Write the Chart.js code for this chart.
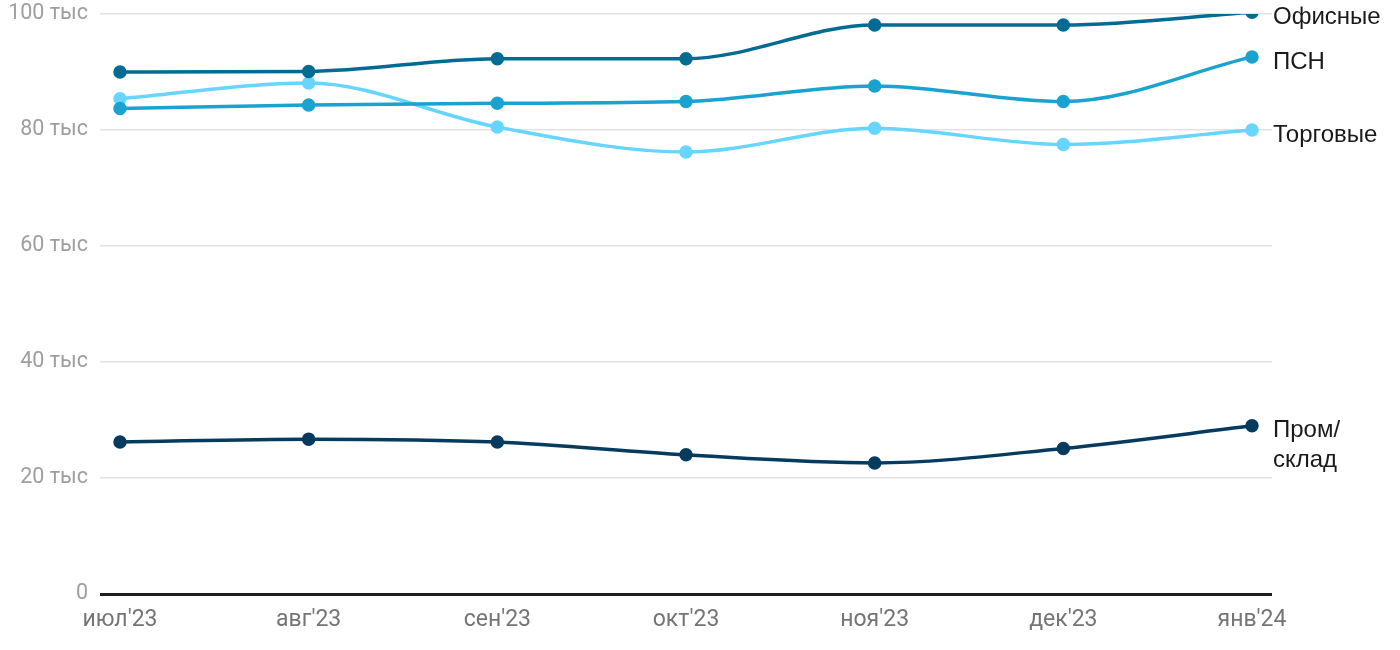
<!DOCTYPE html>
<html>
<head>
<meta charset="utf-8">
<script src="https://cdn.jsdelivr.net/npm/chart.js@4"></script>
<style>
  html, body { margin: 0; padding: 0; background: #fff; }
  #wrap { width: 1400px; height: 650px; }
</style>
</head>
<body>
<div id="wrap"><canvas id="chart"></canvas></div>
<script>
const months = ["июл'23", "авг'23", "сен'23", "окт'23", "ноя'23", "дек'23", "янв'24"];
const yTicks = [0, 20000, 40000, 60000, 80000, 100000];

const office = [90000, 90100, 92300, 92300, 98100, 98100, 100300];
const psn = [83700, 84300, 84600, 84900, 87600, 84900, 92600];
const retail = [85400, 88100, 80500, 76200, 80300, 77500, 80000];
const warehouse = [26200, 26700, 26200, 24000, 22600, 25100, 29000];

const seriesNames = ["Офисные", "ПСН", "Торговые", ["Пром/", "склад"]];
const seriesColors = ["#006b93", "#1aa2d0", "#66d5ff", "#063b60"];

function toPoints(arr) {
    return arr.map((v, i) => ({ x: i, y: v }));
}

const datasets = [office, psn, retail, warehouse].map((arr, i) => ({
    label: seriesNames[i],
    data: toPoints(arr),
    borderColor: seriesColors[i],
    backgroundColor: seriesColors[i],
    borderWidth: 3.5,
    pointRadius: 5,
    pointHoverRadius: 5,
    cubicInterpolationMode: 'monotone',
    fill: false
}));

// series names at the end of each line
const endLabels = {
    id: 'endLabels',
    afterDatasetsDraw(chart) {
        const ctx = chart.ctx;
        ctx.save();
        ctx.font = '24px "Liberation Sans", Arial, sans-serif';
        ctx.fillStyle = '#1a1a1a';
        ctx.textBaseline = 'middle';
        ctx.textAlign = 'left';
        chart.data.datasets.forEach((ds, i) => {
            const meta = chart.getDatasetMeta(i);
            const last = meta.data[meta.data.length - 1];
            const lines = Array.isArray(ds.label) ? ds.label : [ds.label];
            lines.forEach((t, k) => {
                ctx.fillText(t, chart.chartArea.right + 1, last.y + 5 + k * 30);
            });
        });
        ctx.restore();
    }
};

new Chart(document.getElementById('chart'), {
    type: 'line',
    data: { datasets: datasets },
    plugins: [endLabels],
    options: {
        responsive: true,
        maintainAspectRatio: false,
        animation: false,
        layout: { padding: { top: 14, right: 128, left: 0, bottom: 0 } },
        plugins: {
            legend: { display: false },
            tooltip: { enabled: false }
        },
        scales: {
            x: {
                type: 'linear',
                min: -0.106,
                max: months.length - 1 + 0.106,
                afterBuildTicks: s => { s.ticks = months.map((_, i) => ({ value: i })); },
                afterFit: s => { s.height = 56; s.paddingLeft = 0; s.paddingRight = 0; },
                grid: { display: false, drawTicks: false },
                border: { display: false },
                ticks: {
                    callback: v => months[v],
                    color: '#757575',
                    font: { family: 'Roboto', size: 23 },
                    padding: 12,
                    maxRotation: 0,
                    autoSkip: false
                }
            },
            y: {
                min: 0,
                max: 100000,
                afterBuildTicks: s => { s.ticks = yTicks.map(v => ({ value: v })); },
                afterFit: s => { s.width = 100; s.paddingTop = 0; s.paddingBottom = 0; },
                border: { display: false },
                grid: {
                    drawTicks: false,
                    color: ctx => ctx.tick && ctx.tick.value === 0 ? '#1e1e1e' : '#e3e3e3',
                    lineWidth: ctx => ctx.tick && ctx.tick.value === 0 ? 3 : 1.5
                },
                ticks: {
                    callback: v => v === 0 ? '0' : (v / 1000) + ' тыс',
                    color: '#9e9e9e',
                    font: { family: 'Roboto', size: 21.5 },
                    padding: 12
                }
            }
        }
    }
});
</script>
</body>
</html>
